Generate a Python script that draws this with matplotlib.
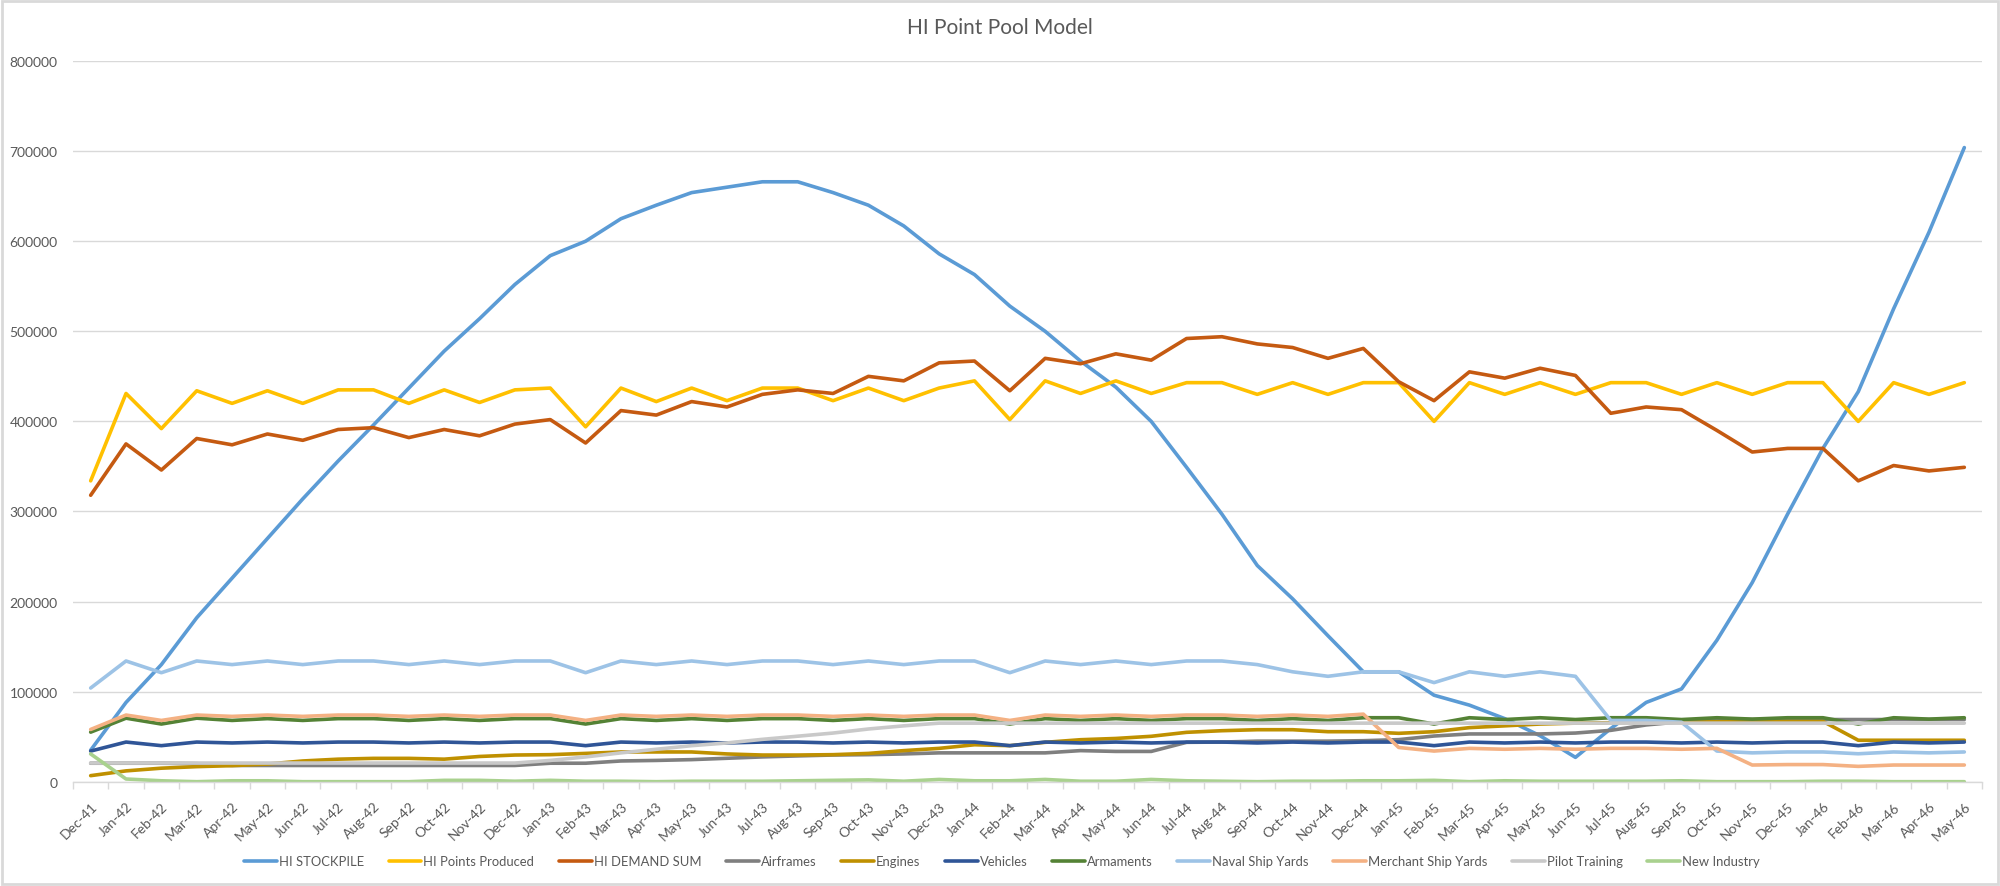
import matplotlib
matplotlib.use("Agg")
import matplotlib.pyplot as plt
from matplotlib.patches import Rectangle
from matplotlib.ticker import FixedLocator, MultipleLocator

plt.rcParams['font.family'] = ['Lato', 'DejaVu Sans']

# months Dec-41 .. May-46
months = ["Dec-41"]
for yy in ["42", "43", "44", "45"]:
    for m in ["Jan", "Feb", "Mar", "Apr", "May", "Jun", "Jul", "Aug", "Sep", "Oct", "Nov", "Dec"]:
        months.append(f"{m}-{yy}")
months += ["Jan-46", "Feb-46", "Mar-46", "Apr-46", "May-46"]

hi_stockpile = [35000, 88000, 130000, 182000, 226000, 270000, 314000, 356000, 396000, 437000,
                478000, 514000, 552000, 584000, 600000, 625000, 640000, 654000, 660000, 666000,
                666000, 654000, 640000, 617000, 586000, 563000, 528000, 500000, 467000, 438000,
                400000, 349000, 297000, 240000, 203000, 162000, 122000, 122000, 96000, 85000,
                70000, 51000, 27000, 59000, 88000, 103000, 157000, 221000, 297000, 370000,
                433000, 525000, 610000, 704000]

hi_points_produced = [334000, 431000, 392000, 434000, 420000, 434000, 420000, 435000, 435000, 420000,
                      435000, 421000, 435000, 437000, 394000, 437000, 422000, 437000, 423000, 437000,
                      437000, 423000, 437000, 423000, 437000, 445000, 402000, 445000, 431000, 445000,
                      431000, 443000, 443000, 430000, 443000, 430000, 443000, 443000, 400000, 443000,
                      430000, 443000, 430000, 443000, 443000, 430000, 443000, 430000, 443000, 443000,
                      400000, 443000, 430000, 443000]

hi_demand_sum = [318000, 375000, 346000, 381000, 374000, 386000, 379000, 391000, 393000, 382000,
                 391000, 384000, 397000, 402000, 376000, 412000, 407000, 422000, 416000, 430000,
                 435000, 431000, 450000, 445000, 465000, 467000, 434000, 470000, 464000, 475000,
                 468000, 492000, 494000, 486000, 482000, 470000, 481000, 444000, 423000, 455000,
                 448000, 459000, 451000, 409000, 416000, 413000, 390000, 366000, 370000, 370000,
                 334000, 351000, 345000, 349000]

airframes = [20500, 20500, 20500, 20000, 18000, 18000, 18000, 18000, 18000, 18000,
             18000, 18000, 18000, 20500, 20500, 23000, 23600, 24500, 26000, 27500,
             28600, 29600, 30000, 30800, 32000, 32000, 32000, 32000, 34500, 33600,
             33600, 43700, 44000, 45000, 45000, 45000, 45500, 46700, 50700, 53000,
             53000, 53000, 54000, 57000, 63000, 66600, 69000, 69000, 69000, 69000,
             69000, 69000, 69000, 69000]

engines = [6700, 12000, 15000, 16700, 17800, 19600, 23000, 25000, 25900, 25900,
           25000, 28000, 29600, 30000, 31400, 33000, 33000, 33000, 30800, 29600,
           29600, 30000, 31400, 34500, 37000, 41000, 40000, 43700, 46600, 48000,
           50400, 54800, 56600, 57700, 57700, 55500, 55500, 53700, 55500, 60000,
           62000, 64000, 65000, 65500, 66000, 66000, 66500, 67000, 67000, 67000,
           46000, 46000, 46000, 46000]

vehicles = [34000, 44000, 40000, 44000, 43000, 44000, 43000, 44000, 44000, 43000,
            44000, 43000, 44000, 44000, 40000, 44000, 43000, 44000, 43000, 44000,
            44000, 43000, 44000, 43000, 44000, 44000, 40000, 44000, 43000, 44000,
            43000, 44000, 44000, 43000, 44000, 43000, 44000, 44000, 40000, 44000,
            43000, 44000, 43000, 44000, 44000, 43000, 44000, 43000, 44000, 44000,
            40000, 44000, 43000, 44000]

armaments = [55000, 70500, 64000, 70500, 68000, 70000, 68000, 70000, 70000, 68000,
             70000, 68000, 70000, 70000, 64000, 70000, 68000, 70000, 68000, 70000,
             70000, 68000, 70000, 68000, 70000, 70000, 64000, 70000, 68000, 70000,
             68000, 70000, 70000, 68000, 70000, 68000, 71000, 71000, 64000, 71000,
             69000, 71000, 69000, 71000, 71000, 69000, 71000, 69500, 71000, 71000,
             64000, 71000, 69500, 71000]

naval_ship_yards = [104000, 134000, 121000, 134000, 130000, 134000, 130000, 134000, 134000, 130000,
                    134000, 130000, 134000, 134000, 121000, 134000, 130000, 134000, 130000, 134000,
                    134000, 130000, 134000, 130000, 134000, 134000, 121000, 134000, 130000, 134000,
                    130000, 134000, 134000, 130000, 122000, 117000, 122000, 122000, 110000, 122000,
                    117000, 122000, 117000, 68000, 68000, 66000, 34000, 32000, 33000, 33000,
                    31000, 33000, 32000, 33000]

merchant_ship_yards = [58000, 74000, 68000, 74000, 72500, 74000, 72500, 74000, 74000, 72500,
                       74000, 72500, 74000, 74000, 68000, 74000, 72500, 74000, 72500, 74000,
                       74000, 72500, 74000, 72500, 74000, 74000, 68000, 74000, 72500, 74000,
                       72500, 74000, 74000, 72500, 74000, 72500, 75000, 38000, 34000, 37000,
                       36000, 37000, 36000, 37000, 37000, 36000, 37000, 18500, 19000, 19000,
                       17000, 18500, 18500, 18500]

pilot_training = [20700, 20700, 20700, 20700, 20700, 20700, 20700, 20700, 20700, 20700,
                  20700, 20700, 20700, 23600, 27500, 32000, 36000, 40000, 43000, 47000,
                  50500, 54000, 58500, 62000, 65000, 65000, 65000, 65000, 65000, 65000,
                  65000, 65000, 65000, 65000, 65000, 65000, 65000, 65000, 65000, 65000,
                  65000, 65000, 65000, 65000, 65000, 65000, 65000, 65000, 65000, 65000,
                  65000, 65000, 65000, 65000]

new_industry = [30800, 3000, 1000, 0, 1000, 1000, 0, 0, 0, 0,
                1500, 1500, 500, 1500, 500, 500, 0, 500, 500, 500,
                1000, 1500, 2000, 500, 2500, 1000, 1000, 2500, 500, 500,
                2500, 1000, 500, 0, 500, 500, 1000, 1000, 1500, 0,
                1000, 500, 500, 500, 500, 1000, 0, 0, 0, 500,
                500, 0, 0, 0]

series = [
    ("HI STOCKPILE", hi_stockpile, "#5B9BD5"),
    ("HI Points Produced", hi_points_produced, "#FFC000"),
    ("HI DEMAND SUM", hi_demand_sum, "#C55A11"),
    ("Airframes", airframes, "#7F7F7F"),
    ("Engines", engines, "#BF9000"),
    ("Vehicles", vehicles, "#2F5597"),
    ("Armaments", armaments, "#548235"),
    ("Naval Ship Yards", naval_ship_yards, "#9DC3E6"),
    ("Merchant Ship Yards", merchant_ship_yards, "#F4B183"),
    ("Pilot Training", pilot_training, "#C9C9C9"),
    ("New Industry", new_industry, "#A9D18E"),
]

fig = plt.figure(figsize=(20, 8.87), dpi=100)
ax = fig.add_axes([0.0365, 0.1176, 0.9545, 0.8124])

x = list(range(len(months)))
for name, vals, col in series:
    ax.plot(x, vals, color=col, lw=2.6, label=name, solid_joinstyle="round", solid_capstyle="round")

ax.set_xlim(-0.5, len(months) - 0.5)
ax.set_ylim(0, 800000)
ax.yaxis.set_major_locator(MultipleLocator(100000))
ax.grid(axis="y", color="#D9D9D9", lw=1)
ax.set_axisbelow(True)

for s in ["top", "right", "left"]:
    ax.spines[s].set_visible(False)
ax.spines["bottom"].set_color("#D9D9D9")
ax.spines["bottom"].set_linewidth(1)

ax.set_xticks(x)
ax.set_xticklabels(months, rotation=45, ha="right", rotation_mode="anchor")
ax.xaxis.set_minor_locator(FixedLocator([i - 0.5 for i in range(len(months) + 1)]))
ax.tick_params(axis="x", which="major", length=0, pad=13, labelsize=10, labelcolor="#595959")
ax.tick_params(axis="x", which="minor", length=5, color="#D9D9D9", width=1)
ax.tick_params(axis="y", length=0, pad=11, labelsize=10, labelcolor="#595959")

fig.text(0.5, 0.968, "HI Point Pool Model", ha="center", va="center", fontsize=15, color="#595959")

fig.legend(loc="center", bbox_to_anchor=(0.501, 0.028), ncol=11, frameon=False,
           fontsize=9.4, handlelength=2.5, handletextpad=0.15, columnspacing=1.9,
           labelcolor="#595959")

fig.patches.append(Rectangle((0.001, 0.002), 0.998, 0.996, transform=fig.transFigure,
                             fill=False, edgecolor="#D9D9D9", lw=2))

fig.savefig("out.png", dpi=100, facecolor="white")
